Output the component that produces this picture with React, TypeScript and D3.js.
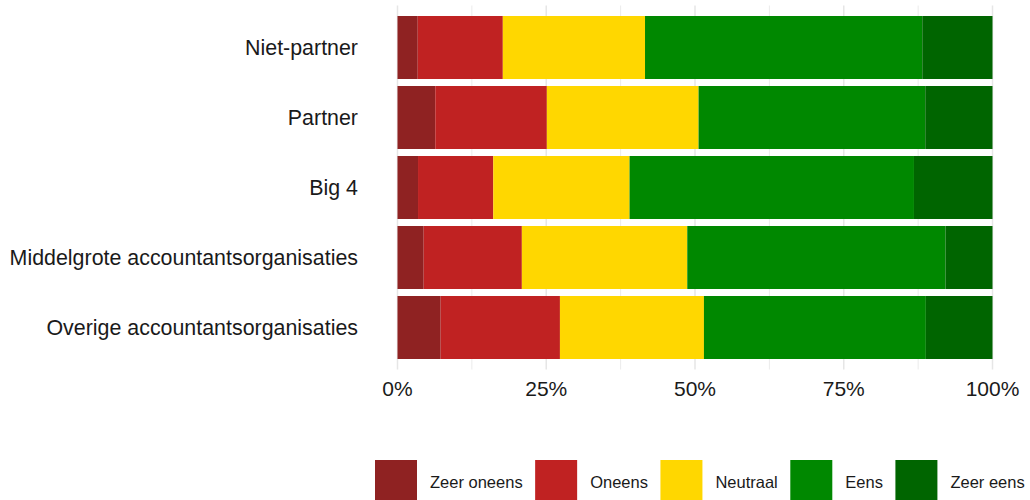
import React from "react";
import * as d3 from "d3";

const categories = [
  "Niet-partner",
  "Partner",
  "Big 4",
  "Middelgrote accountantsorganisaties",
  "Overige accountantsorganisaties",
];
const responses = ["Zeer oneens", "Oneens", "Neutraal", "Eens", "Zeer eens"];
const zeerOneens = [3.4, 6.35, 3.45, 4.4, 7.25];
const oneens = [14.3, 18.75, 12.65, 16.5, 20.05];
const neutraal = [23.9, 25.5, 22.9, 27.8, 24.2];
const eens = [46.6, 38.1, 47.8, 43.4, 37.3];
const zeerEens = [11.8, 11.3, 13.2, 7.9, 11.2];
const xTicks = [0, 0.25, 0.5, 0.75, 1];
const xTickLabels = ["0%", "25%", "50%", "75%", "100%"];
const colors = ["#8F2222", "#C02222", "#FFD700", "#008800", "#006500"];

const W = 1030;
const H = 500;
const FONT = "'Liberation Sans', Arial, sans-serif";

function measure(text: string, size: number) {
  const c = document.createElement("canvas");
  const ctx = c.getContext("2d")!;
  ctx.font = `${size}px 'Liberation Sans', Arial, sans-serif`;
  return ctx.measureText(text).width;
}

export default function App() {
  const rows = categories.map((c, i) => {
    const vals = [zeerOneens[i], oneens[i], neutraal[i], eens[i], zeerEens[i]];
    const total = d3.sum(vals);
    return { cat: c, vals: vals.map((v) => v / total) };
  });
  const stacked = d3
    .stack<any>()
    .keys(responses.map((_, k) => String(k)))
    .value((d, key) => d.vals[+key])(rows as any);

  const x = d3.scaleLinear().domain([0, 1]).range([397.5, 992.5]);
  const y = d3
    .scaleBand<string>()
    .domain(categories)
    .range([5.5, 369.5])
    .paddingInner(0.1)
    .paddingOuter(0.15);

  const gridMajor = xTicks;
  const gridMinor = [0.125, 0.375, 0.625, 0.875];

  // legend layout
  const legendSize = 16.5;
  const keyW = 42;
  let lx = 375;
  const legendItems = responses.map((r, i) => {
    const item = { r, i, x: lx };
    lx += keyW + 13 + measure(r, legendSize) + 12.5;
    return item;
  });

  return (
    <svg
      width={W}
      height={H}
      style={{ position: "absolute", left: 0, top: 0, background: "#fff" }}
      fontFamily={FONT}
    >
      {gridMinor.map((t) => (
        <line
          key={"mn" + t}
          x1={x(t)}
          x2={x(t)}
          y1={5.5}
          y2={369.5}
          stroke="#EBEBEB"
          strokeWidth={1}
        />
      ))}
      {gridMajor.map((t) => (
        <line
          key={"mj" + t}
          x1={x(t)}
          x2={x(t)}
          y1={5.5}
          y2={369.5}
          stroke="#E6E6E6"
          strokeWidth={1.5}
        />
      ))}
      {stacked.map((layer, k) =>
        layer.map((seg: any, i: number) => (
          <rect
            key={k + "-" + i}
            x={x(seg[0])}
            width={x(seg[1]) - x(seg[0])}
            y={y(categories[i])}
            height={y.bandwidth()}
            fill={colors[k]}
          />
        ))
      )}
      {categories.map((c) => (
        <text
          key={c}
          x={358}
          y={(y(c) as number) + y.bandwidth() / 2}
          dy="0.35em"
          textAnchor="end"
          fontSize={21.4}
          fill="#1A1A1A"
        >
          {c}
        </text>
      ))}
      {xTicks.map((t, i) => (
        <text
          key={"xt" + t}
          x={x(t)}
          y={396}
          textAnchor="middle"
          fontSize={21}
          fill="#1A1A1A"
        >
          {xTickLabels[i]}
        </text>
      ))}
      {legendItems.map((it) => (
        <g key={it.r}>
          <rect x={it.x} y={460} width={keyW} height={42} fill={colors[it.i]} />
          <text
            x={it.x + keyW + 13}
            y={482}
            dy="0.35em"
            fontSize={legendSize}
            fill="#1A1A1A"
          >
            {it.r}
          </text>
        </g>
      ))}
    </svg>
  );
}
